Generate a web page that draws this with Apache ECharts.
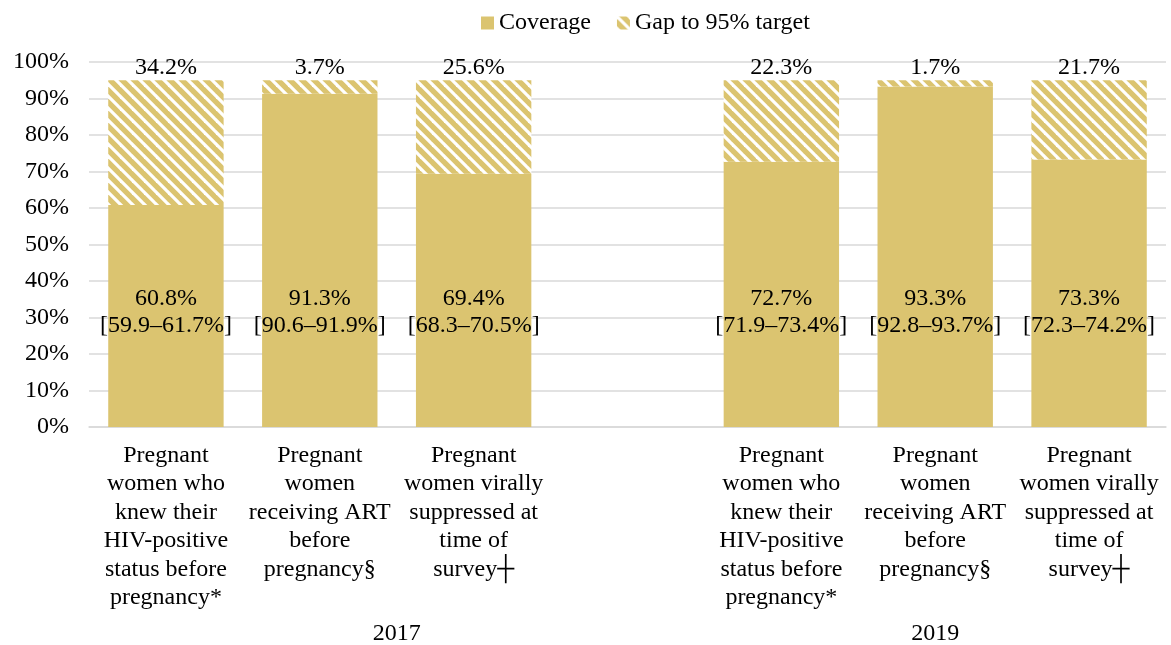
<!DOCTYPE html>
<html>
<head>
<meta charset="utf-8">
<script src="https://cdn.jsdelivr.net/npm/echarts@6/dist/echarts.min.js"></script>
<style>
  html, body { margin: 0; padding: 0; background: #fff; }
  #chart { width: 1171px; height: 645px; }
</style>
</head>
<body>
<div id="chart"></div>
<script>
// categories (4th slot is the blank spacer that belongs to the 2017 group)
var categories = [
  'Pregnant\nwomen who\nknew their\nHIV-positive\nstatus before\npregnancy*',
  'Pregnant\nwomen\nreceiving ART\nbefore\npregnancy§',
  'Pregnant\nwomen virally\nsuppressed at\ntime of\nsurvey┼',
  '',
  'Pregnant\nwomen who\nknew their\nHIV-positive\nstatus before\npregnancy*',
  'Pregnant\nwomen\nreceiving ART\nbefore\npregnancy§',
  'Pregnant\nwomen virally\nsuppressed at\ntime of\nsurvey┼'
];
var coverage = [60.8, 91.3, 69.4, '-', 72.7, 93.3, 73.3];
var gap = [34.2, 3.7, 25.6, '-', 22.3, 1.7, 21.7];
var ranges = ['[59.9–61.7%]', '[90.6–91.9%]', '[68.3–70.5%]', '', '[71.9–73.4%]', '[92.8–93.7%]', '[72.3–74.2%]'];
var years = ['2017', '2019'];
var yearSizes = [4, 3];
var yTicks = [0, 10, 20, 30, 40, 50, 60, 70, 80, 90, 100];

var gold = '#DBC470';
var font = 'Liberation Serif';

// centre of each year group on a 0..n value scale
var yearCenters = [];
var acc = 0;
yearSizes.forEach(function (n) {
  yearCenters.push(acc + n / 2);
  acc += n;
});

// diagonal hatch for the gap series
function hatch() {
  var c = document.createElement('canvas');
  c.width = 12; c.height = 12;
  var ctx = c.getContext('2d');
  ctx.fillStyle = gold;
  ctx.fillRect(0, 0, 12, 12);
  ctx.strokeStyle = '#fff';
  ctx.lineWidth = 3.2;
  [-12, 0, 12].forEach(function (k) {
    ctx.beginPath();
    ctx.moveTo(-2, -2 + k);
    ctx.lineTo(14, 14 + k);
    ctx.stroke();
  });
  return c;
}

var chart = echarts.init(document.getElementById('chart'));
var option = {
  animation: false,
  textStyle: { fontFamily: font, color: '#000' },
  legend: {
    left: 476,
    top: 6,
    itemWidth: 13,
    itemHeight: 13,
    itemGap: 26,
    icon: 'rect',
    textStyle: { fontFamily: font, fontSize: 24, color: '#000' },
    data: ['Coverage', 'Gap to 95% target']
  },
  grid: { left: 89, right: 5, top: 62, bottom: 218, outerBoundsMode: 'none' },
  xAxis: [
    {
      type: 'category',
      data: categories,
      axisLine: { lineStyle: { color: '#D9D9D9', width: 1.5 } },
      axisTick: { show: false },
      axisLabel: {
        interval: 0,
        margin: 14,
        fontFamily: font,
        fontSize: 24,
        lineHeight: 28.5,
        color: '#000'
      }
    },
    {
      type: 'value',
      position: 'bottom',
      min: 0,
      max: categories.length,
      axisLine: { show: false },
      axisTick: { show: false },
      splitLine: { show: false },
      axisLabel: {
        customValues: yearCenters,
        margin: 195,
        fontFamily: font,
        fontSize: 24,
        color: '#000',
        formatter: function (v) {
          var i = yearCenters.indexOf(v);
          return i >= 0 ? years[i] : '';
        }
      }
    }
  ],
  yAxis: {
    type: 'value',
    min: yTicks[0],
    max: yTicks[yTicks.length - 1],
    interval: 10,
    axisLine: { show: false },
    axisTick: { show: false },
    splitLine: { lineStyle: { color: '#D9D9D9', width: 1.5 } },
    axisLabel: {
      margin: 20,
      fontFamily: font,
      fontSize: 24,
      color: '#000',
      formatter: '{value}%'
    }
  },
  series: [
    {
      name: 'Coverage',
      type: 'bar',
      stack: 'total',
      barCategoryGap: '25%',
      data: coverage,
      itemStyle: { color: gold },
      label: {
        show: true,
        position: 'insideBottom',
        distance: 88,
        fontFamily: font,
        fontSize: 24,
        lineHeight: 27,
        color: '#000',
        formatter: function (p) {
          return p.value + '%\n' + ranges[p.dataIndex];
        }
      }
    },
    {
      name: 'Gap to 95% target',
      type: 'bar',
      stack: 'total',
      data: gap,
      itemStyle: { color: { image: hatch(), repeat: 'repeat' } },
      label: {
        show: true,
        position: 'top',
        distance: 1,
        fontFamily: font,
        fontSize: 24,
        color: '#000',
        formatter: '{c}%'
      }
    }
  ]
};
chart.setOption(option);
window.addEventListener('resize', function () {
  chart.resize();
});
</script>
</body>
</html>
